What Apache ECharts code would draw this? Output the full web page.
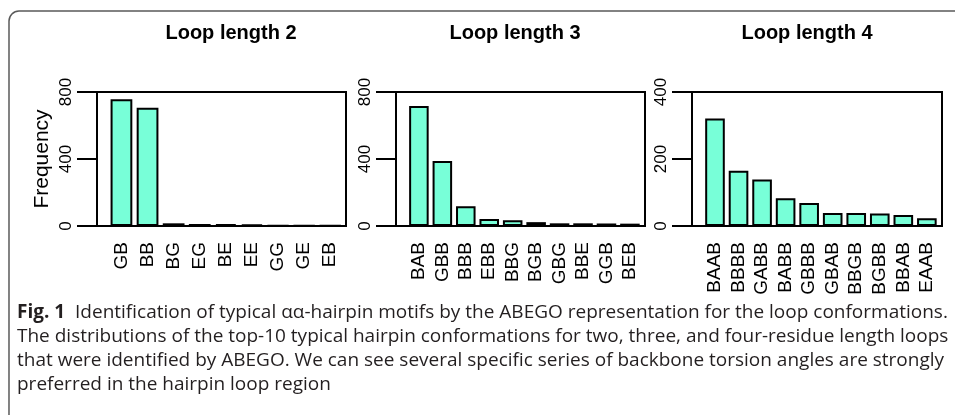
<!DOCTYPE html>
<html>
<head>
<meta charset="utf-8">
<script src="https://cdn.jsdelivr.net/npm/echarts@6/dist/echarts.min.js"></script>
<style>
  html, body { margin: 0; padding: 0; background: #fff; }
  #main { width: 955px; height: 415px; }
</style>
</head>
<body>
<div id="main"></div>
<script>
// 数据
var cats2 = ['GB', 'BB', 'BG', 'EG', 'BE', 'EE', 'GG', 'GE', 'EB']
var vals2 = [756, 706, 16, 12, 11, 8, 3, 2, 2]
var cats3 = ['BAB', 'GBB', 'BBB', 'EBB', 'BBG', 'BGB', 'GBG', 'BBE', 'GGB', 'BEB']
var vals3 = [716, 388, 118, 42, 34, 23, 16, 16, 15, 14]
var cats4 = ['BAAB', 'BBBB', 'GABB', 'BABB', 'GBBB', 'GBAB', 'BBGB', 'BGBB', 'BBAB', 'EAAB']
var vals4 = [321, 165, 139, 83, 69, 39, 39, 37, 33, 23]
var titles = ['Loop length 2', 'Loop length 3', 'Loop length 4']
var yMax = [800, 800, 400]
var yStep = [400, 400, 200]

var panels = [
  { cats: cats2, vals: vals2, left: 97, width: 249, titleX: 231 },
  { cats: cats3, vals: vals3, left: 396, width: 249, titleX: 515 },
  { cats: cats4, vals: vals4, left: 692, width: 250, titleX: 807 }
]
var TOP = 92
var HEIGHT = 134
var FONT = '"Liberation Sans", Arial, sans-serif'

var chart = echarts.init(document.getElementById('main'))
var option = {
  animation: false,
  backgroundColor: '#fff',
  title: [],
  grid: [],
  xAxis: [],
  yAxis: [],
  series: [],
  graphic: []
}

panels.forEach(function (p, i) {
  // R barplot 布局: 宽 1, 间隔 0.2, 两侧扩展 4%
  var n = p.cats.length
  var lo = 0.2
  var hi = n * 1.2
  var pad = (hi - lo) * 0.04
  var u = p.width / (hi - lo + 2 * pad)
  var off = (0.1 + pad) * u

  option.title.push({
    text: titles[i],
    left: p.titleX,
    top: 23,
    textAlign: 'center',
    padding: 0,
    textStyle: { fontFamily: FONT, fontWeight: 'bold', fontSize: 20, color: '#000' }
  })

  // 外框 grid + y 轴
  option.grid.push({
    left: p.left, top: TOP, width: p.width, height: HEIGHT,
    show: true, borderColor: '#000', borderWidth: 2, backgroundColor: 'transparent'
  })
  // 柱子 grid
  option.grid.push({
    left: p.left + off, top: TOP, width: n * 1.2 * u, height: HEIGHT
  })

  option.xAxis.push({ gridIndex: 2 * i, type: 'value', show: false })
  option.xAxis.push({
    gridIndex: 2 * i + 1,
    type: 'category',
    data: p.cats,
    axisLine: { show: false },
    axisTick: { show: false },
    axisLabel: {
      rotate: 90, margin: 16, interval: 0,
      fontFamily: FONT, fontSize: 19, color: '#000'
    }
  })

  option.yAxis.push({
    gridIndex: 2 * i,
    type: 'value',
    min: 0, max: yMax[i], interval: yStep[i],
    name: i === 0 ? 'Frequency' : '',
    nameLocation: 'middle',
    nameGap: 44,
    nameRotate: 90,
    nameTextStyle: { fontFamily: FONT, fontSize: 21, color: '#000' },
    axisLine: { show: true, lineStyle: { color: '#000', width: 2 } },
    axisTick: { show: true, length: 20, lineStyle: { color: '#000', width: 2 } },
    axisLabel: { rotate: 90, margin: 22, fontFamily: FONT, fontSize: 17, color: '#000' },
    splitLine: { show: false }
  })
  option.yAxis.push({
    gridIndex: 2 * i + 1, type: 'value', min: 0, max: yMax[i], show: false
  })

  option.series.push({
    type: 'bar',
    xAxisIndex: 2 * i + 1,
    yAxisIndex: 2 * i + 1,
    data: p.vals,
    barWidth: u,
    itemStyle: { color: '#78FFD8', borderColor: '#000', borderWidth: 2 }
  })
})

// 外边框 (圆角)
option.graphic.push({
  type: 'rect',
  shape: { x: 9, y: 11, width: 1200, height: 800, r: 10 },
  style: { fill: 'none', stroke: '#5a5a5a', lineWidth: 1.5 },
  silent: true
})

// 图注
option.graphic.push({
  type: 'text',
  left: 17,
  top: 301,
  style: {
    text: '{b|Fig. 1}  Identification of typical \u03b1\u03b1-hairpin motifs by the ABEGO representation for the loop conformations.\n' +
      'The distributions of the top-10 typical hairpin conformations for two, three, and four-residue length loops\n' +
      'that were identified by ABEGO. We can see several specific series of backbone torsion angles are strongly\n' +
      'preferred in the hairpin loop region',
    font: '19px "Open Sans", sans-serif',
    fill: '#231f20',
    lineHeight: 24,
    rich: {
      b: { fontFamily: '"Open Sans", sans-serif', fontWeight: 'bold', fontSize: 19, fill: '#231f20', lineHeight: 24 }
    }
  }
})

chart.setOption(option)
</script>
</body>
</html>
